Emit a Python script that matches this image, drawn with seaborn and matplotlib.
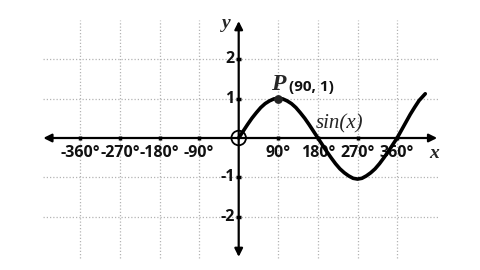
import matplotlib
matplotlib.use("Agg")
import matplotlib.pyplot as plt
import seaborn as sns
import pandas as pd

# data
curve_x = [0, 10, 20, 30, 40, 50, 60, 70, 80, 90, 100, 110, 120, 130, 140, 150, 160, 170,
           180, 190, 200, 210, 220, 230, 240, 250, 260, 270, 280, 290, 300, 310, 320, 330,
           340, 350, 360, 370, 380, 390, 400, 410, 424]
curve_y = [0.0, 0.17, 0.34, 0.5, 0.64, 0.77, 0.87, 0.94, 0.99, 1.0, 0.99, 0.94, 0.87, 0.77,
           0.64, 0.5, 0.34, 0.17, 0.0, -0.17, -0.34, -0.5, -0.65, -0.78, -0.88, -0.96, -1.02,
           -1.04, -1.02, -0.96, -0.88, -0.78, -0.65, -0.5, -0.34, -0.17, 0.0, 0.2, 0.4,
           0.6, 0.78, 0.95, 1.12]
x_ticks = [-360, -270, -180, -90, 90, 180, 270, 360]
x_tick_labels = ["-360°", "-270°", "-180°", "-90°", "90°", "180°", "270°", "360°"]
y_ticks = [2, 1, -1, -2]
y_tick_labels = ["2", "1", "-1", "-2"]
point_x, point_y = [90], [1]
origin_x, origin_y = [0], [0]

sns.set_theme(style="white")
fig = plt.figure(figsize=(4.8, 2.7), dpi=100)
ax = fig.add_axes([0, 0, 1, 1])
ax.set_xlim(-542.5, 548.4)
ax.set_ylim(-3.342, 3.494)
ax.axis("off")

grid_kw = dict(color="#b4b4b4", lw=0.9, ls=(0, (1, 1.6)), zorder=1)
for gx in [-360, -270, -180, -90, 90, 180, 270, 360]:
    ax.plot([gx, gx], [-3.04, 2.99], **grid_kw)
for gy in [-2, -1, 1, 2]:
    ax.plot([-445, 453], [gy, gy], **grid_kw)

# axes with arrows
ax.annotate("", xy=(-444, 0), xytext=(451, 0),
            arrowprops=dict(arrowstyle="<|-|>", color="black", lw=1.6,
                            mutation_scale=12, shrinkA=0, shrinkB=0), zorder=3)
ax.annotate("", xy=(0, 2.96), xytext=(0, -3.01),
            arrowprops=dict(arrowstyle="<|-|>", color="black", lw=1.6,
                            mutation_scale=12, shrinkA=0, shrinkB=0), zorder=3)

# tick marks
for tx in x_ticks:
    ax.plot([tx, tx], [-0.06, 0.06], color="black", lw=2.5, solid_capstyle="butt", zorder=3)
for ty in y_ticks:
    ax.plot([-6, 6], [ty, ty], color="black", lw=2.5, solid_capstyle="butt", zorder=3)

lab = dict(family=["Open Sans", "DejaVu Sans"], fontweight="bold", fontsize=11.5, color="#111111")
for tx, tl in zip(x_ticks, x_tick_labels):
    ax.text(tx, -0.37, tl, ha="center", va="center", **lab)
for ty, tl in zip(y_ticks, y_tick_labels):
    ax.text(-9, ty, tl, ha="right", va="center", **lab)

df = pd.DataFrame({"x": curve_x, "y": curve_y})
sns.lineplot(data=df, x="x", y="y", ax=ax, color="black", lw=2.6, zorder=4,
             sort=False, legend=False)

ax.scatter(point_x, point_y, s=28, color="#222222", zorder=5)
ax.scatter(origin_x, origin_y, s=110, facecolors="none", edgecolors="black",
           linewidths=1.3, zorder=5)

serif_bi = dict(family=["Liberation Serif", "DejaVu Serif"], fontweight="bold", style="italic")
ax.text(90, 1.36, "P", ha="center", va="center", fontsize=17, **serif_bi)
ax.text(115, 1.3, "(90, 1)", ha="left", va="center",
        family=["Open Sans", "DejaVu Sans"], fontweight="bold", fontsize=11, color="#111111")
ax.text(176, 0.37, "sin(x)", ha="left", va="center", fontsize=15,
        family=["Liberation Serif", "DejaVu Serif"], style="italic")
ax.text(-28, 2.9, "y", ha="center", va="center", fontsize=14, **serif_bi)
ax.text(444, -0.38, "x", ha="center", va="center", fontsize=14, **serif_bi)

fig.savefig("out.png", dpi=100)
